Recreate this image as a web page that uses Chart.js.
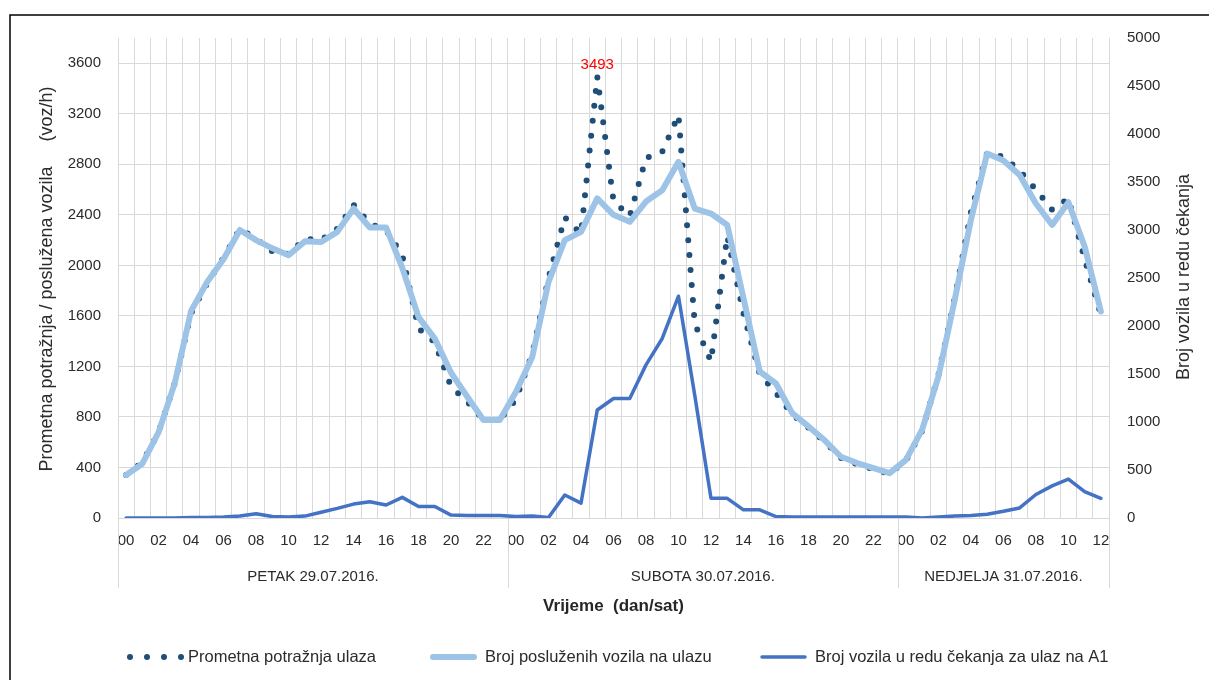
<!DOCTYPE html>
<html>
<head>
<meta charset="utf-8">
<script src="https://cdn.jsdelivr.net/npm/chart.js@4.4.0/dist/chart.umd.min.js"></script>
<style>
  html, body { margin: 0; padding: 0; background: #fff; }
  canvas { display: block; }
</style>
</head>
<body>
<canvas id="chart" width="1209" height="680"></canvas>
<script>
// hour of day, Friday 00 .. Sunday 12
const hours = [
    '00', '01', '02', '03', '04', '05', '06', '07', '08', '09', '10', '11',
    '12', '13', '14', '15', '16', '17', '18', '19', '20', '21', '22', '23',
    '00', '01', '02', '03', '04', '05', '06', '07', '08', '09', '10', '11',
    '12', '13', '14', '15', '16', '17', '18', '19', '20', '21', '22', '23',
    '00', '01', '02', '03', '04', '05', '06', '07', '08', '09', '10', '11', '12',
];
const days = ['PETAK 29.07.2016.', 'SUBOTA 30.07.2016.', 'NEDJELJA 31.07.2016.'];

const seriesNames = [
    'Prometna potražnja ulaza',
    'Broj posluženih vozila na ulazu',
    'Broj vozila u redu čekanja za ulaz na A1',
];

// voz/h, left axis
const demand = [
    340, 440, 680, 1070, 1620, 1860, 2060, 2290, 2210, 2110, 2090, 2210,
    2200, 2290, 2480, 2330, 2280, 2080, 1500, 1390, 1040, 920, 775, 775,
    940, 1300, 1900, 2380, 2250, 3493, 2510, 2390, 2850, 2900, 3190, 1540,
    1240, 2230, 1620, 1140, 990, 820, 715, 605, 475, 425, 385, 350,
    455, 690, 1130, 1740, 2420, 2890, 2860, 2750, 2600, 2440, 2530, 2050, 1610,
];
const served = [
    340, 430, 680, 1070, 1640, 1870, 2050, 2280, 2200, 2135, 2080, 2190,
    2185, 2265, 2450, 2300, 2300, 1980, 1590, 1420, 1150, 960, 775, 775,
    1000, 1275, 1870, 2200, 2265, 2530, 2400, 2345, 2505, 2595, 2820, 2450,
    2410, 2320, 1740, 1160, 1065, 830, 725, 615, 485, 435, 395, 355,
    460, 700, 1120, 1725, 2360, 2885, 2830, 2715, 2490, 2320, 2500, 2150, 1635,
];
// vehicles in queue, right axis
const queue = [
    0, 0, 0, 0, 5, 5, 10, 20, 45, 15, 10, 20,
    60, 100, 145, 170, 135, 215, 120, 120, 30, 25, 25, 25,
    15, 20, 5, 240, 155, 1125, 1245, 1245, 1595, 1870, 2310, 1280,
    205, 205, 85, 85, 15, 10, 10, 10, 10, 10, 10, 10,
    10, 0, 10, 20, 25, 40, 70, 105, 245, 335, 405, 275, 205,
];

const options = {
    font: '"Liberation Sans", Arial, sans-serif',
    textColor: '#2b2b2b',
    gridColor: '#d9d9d9',
    demandColor: '#1f4e79',
    servedColor: '#9dc3e6',
    queueColor: '#4472c4',
    leftMax: 3800,
    leftLastTick: 3600,
    leftStep: 400,
    rightMax: 5000,
    rightStep: 500,
};

Chart.defaults.font.family = options.font;
Chart.defaults.color = options.textColor;

function fontStr(size, weight) {
    return `${weight || 'normal'} ${size}px ${options.font}`;
}

// titles, day groups, legend, peak label and frame
const decorations = {
    id: 'decorations',
    afterDraw(chart) {
        const { ctx, chartArea: area, scales } = chart;
        const step = (area.right - area.left) / hours.length;

        ctx.save();

        // outer frame
        ctx.strokeStyle = '#000';
        ctx.lineWidth = 1.5;
        ctx.beginPath();
        ctx.moveTo(10, 680);
        ctx.lineTo(10, 15);
        ctx.lineTo(1209, 15);
        ctx.stroke();

        // day groups below the hour labels
        const starts = [];
        hours.forEach((h, i) => { if (h === '00') starts.push(i); });
        const bounds = starts.concat([hours.length]);
        ctx.strokeStyle = options.gridColor;
        ctx.lineWidth = 1;
        bounds.forEach((b) => {
            const px = Math.round(area.left + b * step) + 0.5;
            ctx.beginPath();
            ctx.moveTo(px, area.bottom);
            ctx.lineTo(px, area.bottom + 70);
            ctx.stroke();
        });
        ctx.fillStyle = options.textColor;
        ctx.textAlign = 'center';
        ctx.textBaseline = 'middle';
        ctx.font = fontStr(15);
        days.forEach((d, k) => {
            const cx = area.left + (bounds[k] + bounds[k + 1]) / 2 * step;
            ctx.fillText(d, cx, 577);
        });

        // axis titles
        ctx.font = fontStr(17, 'bold');
        ctx.fillStyle = '#262626';
        ctx.fillText('Vrijeme  (dan/sat)', (area.left + area.right) / 2, 606);

        ctx.fillStyle = options.textColor;
        ctx.font = fontStr(18);
        ctx.save();
        ctx.translate(47, 279);
        ctx.rotate(-Math.PI / 2);
        ctx.fillText('Prometna potražnja / poslužena vozila     (voz/h)', 0, 0);
        ctx.restore();

        ctx.save();
        ctx.translate(1184, 277);
        ctx.rotate(-Math.PI / 2);
        ctx.fillText('Broj vozila u redu čekanja', 0, 0);
        ctx.restore();

        // peak label
        const peak = Math.max(...demand);
        const pi = demand.indexOf(peak);
        ctx.fillStyle = '#ff0000';
        ctx.font = fontStr(15);
        ctx.fillText(String(peak), scales.x.getPixelForValue(pi), scales.y.getPixelForValue(peak) - 12);

        // legend
        const ly = 657;
        ctx.font = fontStr(16.5);
        ctx.textAlign = 'left';

        ctx.fillStyle = options.demandColor;
        [130, 147, 164, 181].forEach((dx) => {
            ctx.beginPath();
            ctx.arc(dx, ly, 3, 0, Math.PI * 2);
            ctx.fill();
        });
        ctx.fillStyle = options.textColor;
        ctx.fillText(seriesNames[0], 188, ly);

        ctx.lineCap = 'round';
        ctx.strokeStyle = options.servedColor;
        ctx.lineWidth = 6;
        ctx.beginPath();
        ctx.moveTo(433, ly);
        ctx.lineTo(474, ly);
        ctx.stroke();
        ctx.fillText(seriesNames[1], 485, ly);

        ctx.strokeStyle = options.queueColor;
        ctx.lineWidth = 3.5;
        ctx.beginPath();
        ctx.moveTo(762, ly);
        ctx.lineTo(805, ly);
        ctx.stroke();
        ctx.fillText(seriesNames[2], 815, ly);

        ctx.restore();
    },
};

const tickFont = { size: 15 };
const plainNumber = (v) => String(v);

new Chart(document.getElementById('chart'), {
    type: 'line',
    data: {
        labels: hours,
        datasets: [
            {
                label: seriesNames[0],
                data: demand,
                yAxisID: 'y',
                borderColor: options.demandColor,
                borderWidth: 6,
                borderDash: [0, 15],
                borderCapStyle: 'round',
                borderJoinStyle: 'round',
                pointRadius: 0,
                order: 3,
            },
            {
                label: seriesNames[1],
                data: served,
                yAxisID: 'y',
                borderColor: options.servedColor,
                borderWidth: 6,
                borderCapStyle: 'round',
                borderJoinStyle: 'round',
                pointRadius: 0,
                order: 2,
            },
            {
                label: seriesNames[2],
                data: queue,
                yAxisID: 'y2',
                borderColor: options.queueColor,
                borderWidth: 3.5,
                borderCapStyle: 'round',
                borderJoinStyle: 'round',
                pointRadius: 0,
                order: 1,
            },
        ],
    },
    options: {
        responsive: false,
        devicePixelRatio: 1,
        animation: false,
        layout: { padding: { top: 38, left: 0, right: 0, bottom: 0 } },
        plugins: {
            legend: { display: false },
            tooltip: { enabled: false },
        },
        scales: {
            x: {
                type: 'category',
                offset: true,
                grid: { offset: true, color: options.gridColor, drawTicks: false },
                border: { display: false },
                ticks: {
                    autoSkip: false,
                    maxRotation: 0,
                    minRotation: 0,
                    padding: 14,
                    font: tickFont,
                    color: options.textColor,
                    callback: (v, i) => (i % 2 === 0 ? hours[i] : ''),
                },
                afterFit: (s) => { s.height = 162; },
            },
            y: {
                position: 'left',
                min: 0,
                max: options.leftMax,
                grid: { color: options.gridColor, drawTicks: false },
                border: { display: false },
                ticks: {
                    stepSize: options.leftStep,
                    padding: 17,
                    font: tickFont,
                    color: options.textColor,
                    callback: plainNumber,
                },
                afterBuildTicks: (s) => { s.ticks = s.ticks.filter((t) => t.value <= options.leftLastTick); },
                afterFit: (s) => { s.width = 118; },
            },
            y2: {
                position: 'right',
                min: 0,
                max: options.rightMax,
                grid: { display: false, drawTicks: false },
                border: { display: false },
                ticks: {
                    stepSize: options.rightStep,
                    padding: 18,
                    font: tickFont,
                    color: options.textColor,
                    callback: plainNumber,
                },
                afterFit: (s) => { s.width = 100; },
            },
        },
    },
    plugins: [decorations],
});
</script>
</body>
</html>
